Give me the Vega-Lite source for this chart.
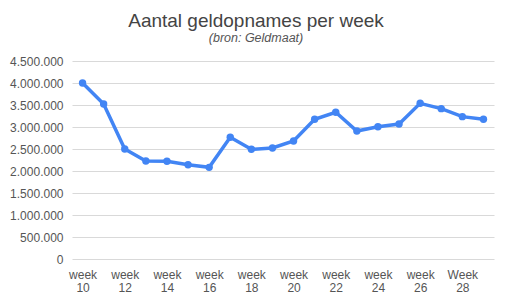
{
  "$schema": "https://vega.github.io/schema/vega-lite/v6.json",
  "width": 422,
  "height": 198,
  "autosize": {"type": "none"},
  "padding": {"left": 72, "top": 61, "right": 18, "bottom": 44},
  "background": "white",
  "title": {
    "text": "Aantal geldopnames per week",
    "subtitle": "(bron: Geldmaat)",
    "anchor": "middle",
    "dx": -27,
    "offset": 11,
    "font": "Liberation Sans",
    "fontSize": 19,
    "fontWeight": "normal",
    "color": "#444444",
    "subtitleFont": "Liberation Sans",
    "subtitleFontSize": 12.5,
    "subtitleFontStyle": "italic",
    "subtitleColor": "#555555",
    "subtitlePadding": 1
  },
  "config": {
    "view": {"stroke": null},
    "font": "Liberation Sans"
  },
  "data": {
    "values": [
      {"wk": 10, "opnames": 4000000},
      {"wk": 11, "opnames": 3523000},
      {"wk": 12, "opnames": 2500000},
      {"wk": 13, "opnames": 2227000},
      {"wk": 14, "opnames": 2222000},
      {"wk": 15, "opnames": 2143000},
      {"wk": 16, "opnames": 2083000},
      {"wk": 17, "opnames": 2766000},
      {"wk": 18, "opnames": 2493000},
      {"wk": 19, "opnames": 2523000},
      {"wk": 20, "opnames": 2682000},
      {"wk": 21, "opnames": 3175000},
      {"wk": 22, "opnames": 3334000},
      {"wk": 23, "opnames": 2909000},
      {"wk": 24, "opnames": 3007000},
      {"wk": 25, "opnames": 3068000},
      {"wk": 26, "opnames": 3538000},
      {"wk": 27, "opnames": 3417000},
      {"wk": 28, "opnames": 3235000},
      {"wk": 29, "opnames": 3175000}
    ]
  },
  "mark": {"type": "line", "color": "#4285F4", "strokeWidth": 3.5, "point": {"filled": true, "size": 55, "color": "#4285F4"}},
  "encoding": {
    "x": {
      "field": "wk",
      "type": "ordinal",
      "title": null,
      "scale": {"paddingInner": 1, "paddingOuter": 0.5},
      "axis": {
        "domain": false,
        "ticks": false,
        "grid": false,
        "labelAngle": 0,
        "labelFontSize": 12,
        "labelColor": "#555555",
        "labelPadding": 10,
        "labelLineHeight": 13,
        "labelBaseline": "top",
        "labelExpr": "datum.value % 2 == 0 ? [datum.value == 28 ? 'Week' : 'week', '' + datum.value] : ''"
      }
    },
    "y": {
      "field": "opnames",
      "type": "quantitative",
      "title": null,
      "scale": {"domain": [0, 4500000], "nice": false},
      "axis": {
        "values": [0, 500000, 1000000, 1500000, 2000000, 2500000, 3000000, 3500000, 4000000, 4500000],
        "domain": false,
        "ticks": false,
        "gridColor": "#d9d9d9",
        "labelFontSize": 12,
        "labelColor": "#555555",
        "labelPadding": 9,
        "labelExpr": "replace(format(datum.value, ','), regexp(',', 'g'), '.')"
      }
    }
  }
}
